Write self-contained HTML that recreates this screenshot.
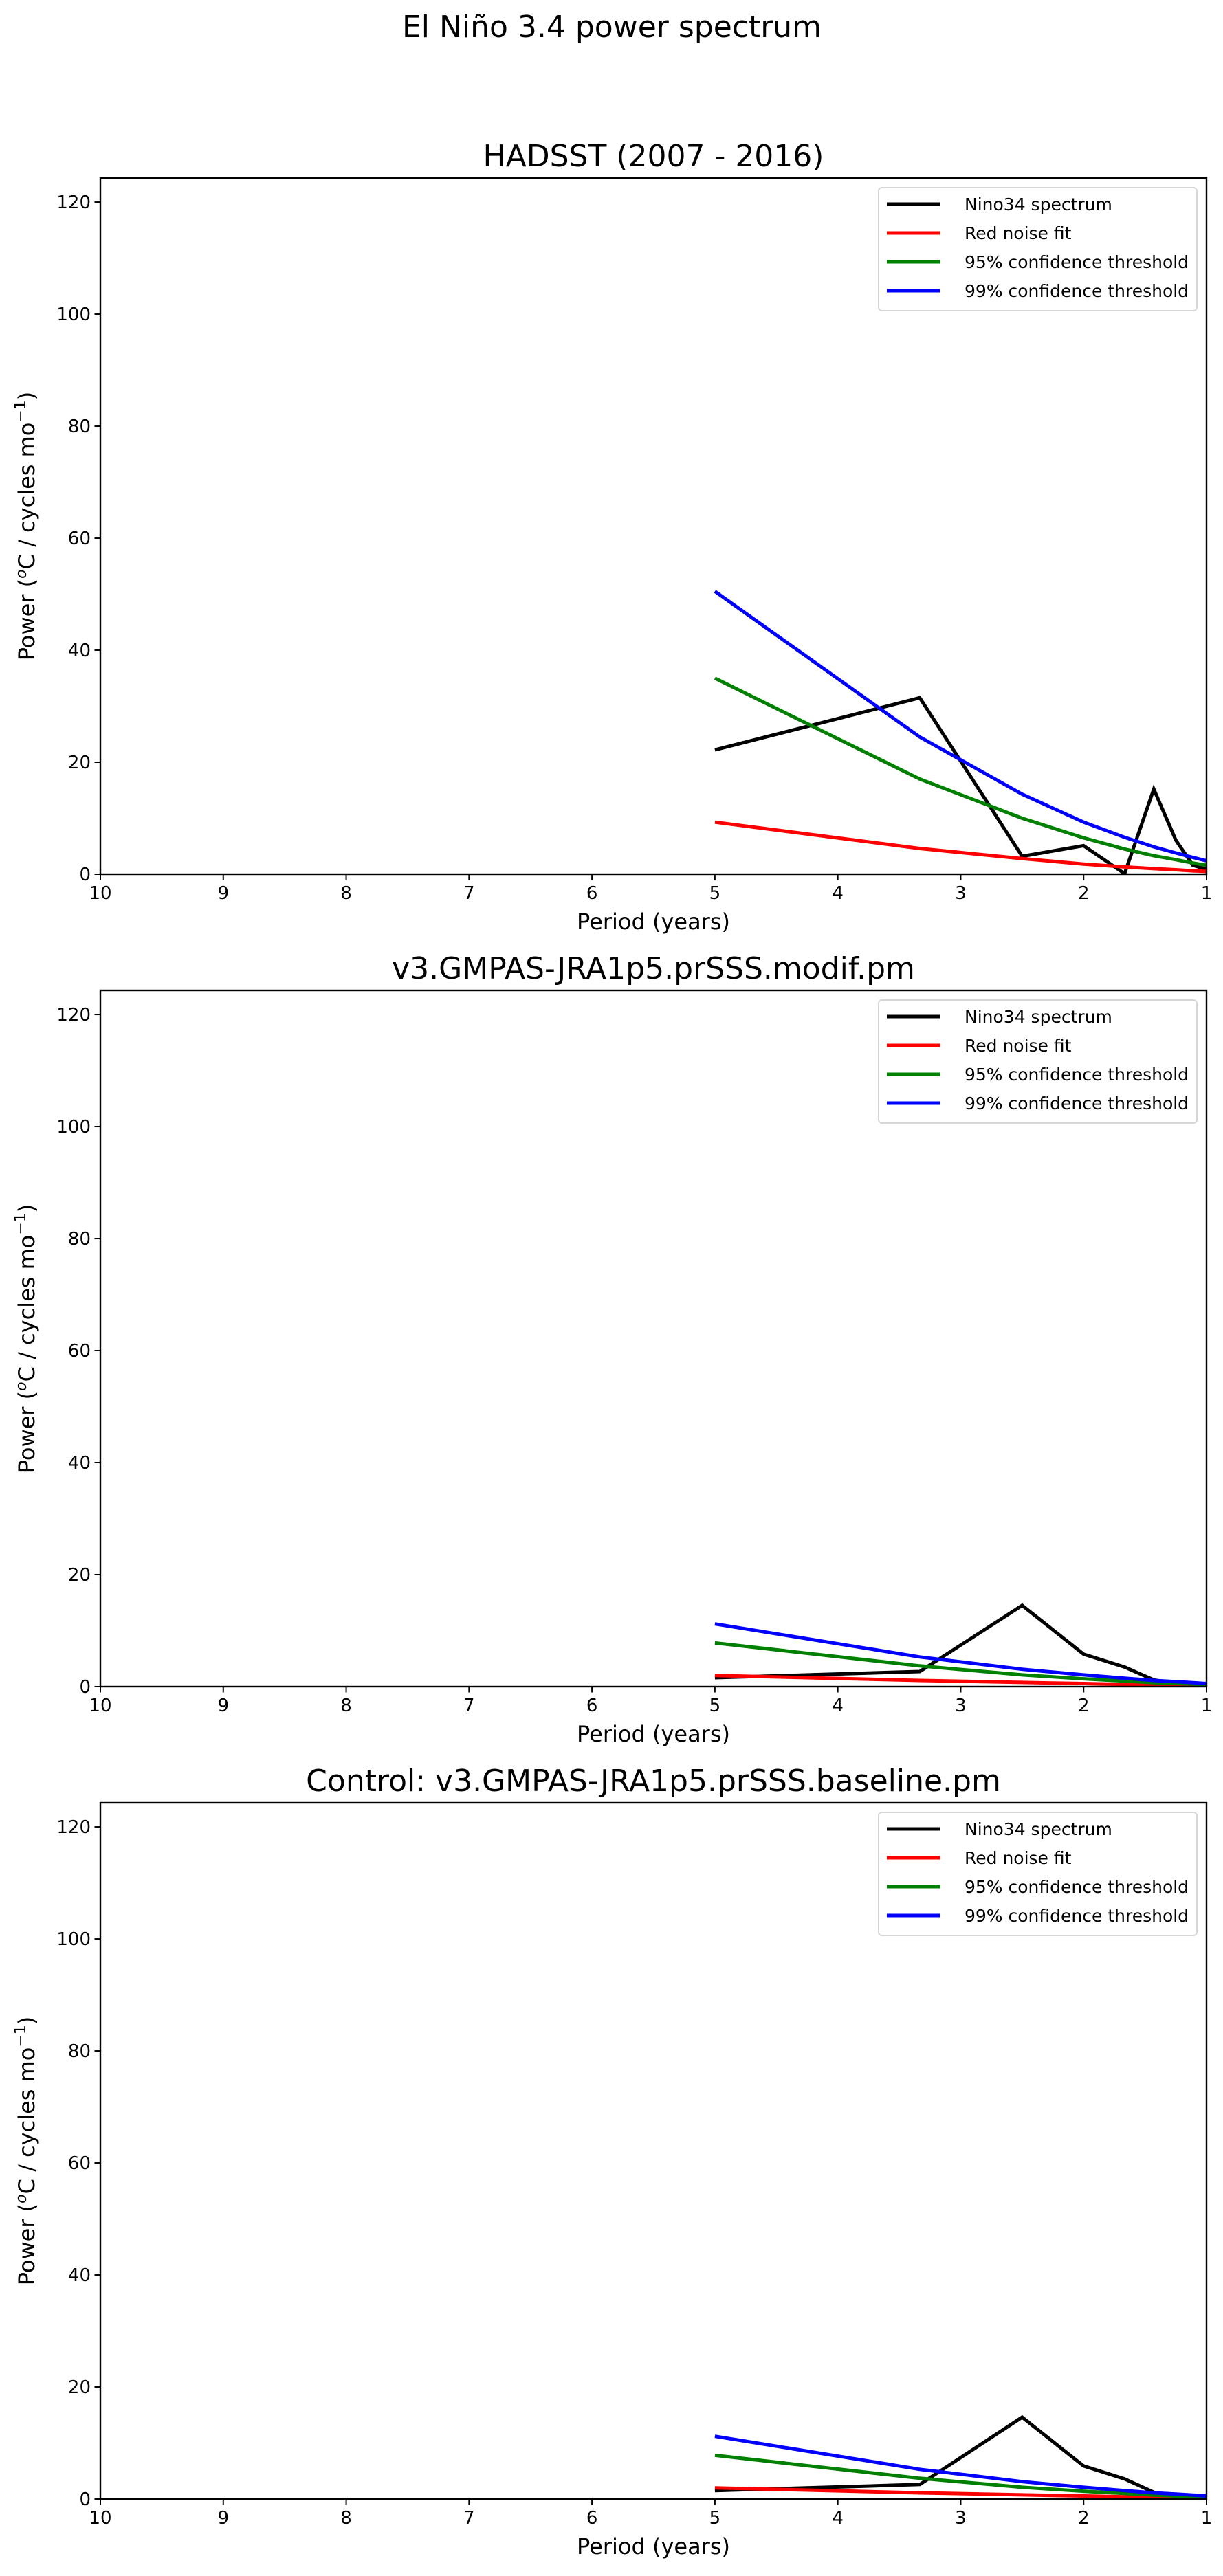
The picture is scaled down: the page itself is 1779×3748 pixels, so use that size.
<!DOCTYPE html>
<html><head><meta charset="utf-8"><style>
html,body{margin:0;padding:0;background:#fff}
svg{display:block}
text{font-family:"DejaVu Sans","Liberation Sans",sans-serif;fill:#000}
</style></head><body>
<svg id="fig" width="1779" height="3748" viewBox="0 0 1779 3748" xmlns="http://www.w3.org/2000/svg">
<rect width="1779" height="3748" fill="#fff"/>
<text x="890" y="54" font-size="44" text-anchor="middle">El Niño 3.4 power spectrum</text>
</svg>
<script>
const periods = [5, 3.333, 2.5, 2, 1.667, 1.429, 1.25, 1.111, 1.0];
const xTicks = [10, 9, 8, 7, 6, 5, 4, 3, 2, 1];
const yTicks = [0, 20, 40, 60, 80, 100, 120];
const panelTitles = ["HADSST (2007 - 2016)", "v3.GMPAS-JRA1p5.prSSS.modif.pm", "Control: v3.GMPAS-JRA1p5.prSSS.baseline.pm"];
const seriesNames = ["Nino34 spectrum", "Red noise fit", "95% confidence threshold", "99% confidence threshold"];
const seriesColors = ["#000000", "#ff0000", "#008000", "#0000ff"];
const hadNino = [22.2, 31.5, 3.2, 5.1, 0.1, 15.2, 6.1, 1.6, 0.9];
const hadRed = [9.3, 4.6, 2.8, 1.8, 1.3, 1.0, 0.8, 0.6, 0.5];
const had95 = [35, 17, 10, 6.5, 4.5, 3.3, 2.6, 2.0, 1.6];
const had99 = [50.5, 24.5, 14.3, 9.3, 6.6, 4.9, 3.8, 3.0, 2.4];
const modNino = [1.6, 2.7, 14.5, 5.8, 3.5, 1.2, 0.5, 0.3, 0.2];
const modRed = [2.0, 1.1, 0.75, 0.55, 0.4, 0.3, 0.25, 0.2, 0.15];
const mod95 = [7.8, 3.7, 2.1, 1.4, 1.0, 0.7, 0.55, 0.45, 0.35];
const mod99 = [11.2, 5.3, 3.1, 2.1, 1.5, 1.1, 0.9, 0.7, 0.55];
const ctlNino = [1.5, 2.6, 14.6, 5.9, 3.6, 1.2, 0.5, 0.3, 0.2];
const ctlRed = [2.0, 1.1, 0.75, 0.55, 0.4, 0.3, 0.25, 0.2, 0.15];
const ctl95 = [7.8, 3.7, 2.1, 1.4, 1.0, 0.7, 0.55, 0.45, 0.35];
const ctl99 = [11.2, 5.3, 3.1, 2.1, 1.5, 1.1, 0.9, 0.7, 0.55];
const yMax = 124.3;

const NS = "http://www.w3.org/2000/svg";
const svg = document.getElementById("fig");
function mk(tag, attrs, parent) {
  const e = document.createElementNS(NS, tag);
  for (const k in attrs) e.setAttribute(k, attrs[k]);
  (parent || svg).appendChild(e);
  return e;
}
const L = 146, R = 1755;
const panelData = [[hadNino, hadRed, had95, had99], [modNino, modRed, mod95, mod99], [ctlNino, ctlRed, ctl95, ctl99]];
const bottoms = [1272, 2454, 3636];
const axH = 1013;

panelData.forEach((series, pi) => {
  const B = bottoms[pi], T = B - axH;
  const sx = p => L + (10 - p) / 9 * (R - L);
  const sy = v => B - v / yMax * axH;
  const g = mk("g", {});
  
  
  const title = mk("text", {x: (L + R) / 2, y: T - 17, "font-size": 44, "text-anchor": "middle"}, g);
  title.textContent = panelTitles[pi];
  
  
  xTicks.forEach(t => {
    const x = sx(t);
    const tk = mk("line", {x1: x, x2: x, y1: B, y2: B + 8.5, stroke: "#000", "stroke-width": 2}, g);
    
    
    const lb = mk("text", {x: x, y: B + 36, "font-size": 26, "text-anchor": "middle"}, g);
    lb.textContent = t;
    
    
  });
  yTicks.forEach(t => {
    const y = sy(t);
    const tk = mk("line", {x1: L - 8.5, x2: L, y1: y, y2: y, stroke: "#000", "stroke-width": 2}, g);
    
    
    const lb = mk("text", {x: L - 14, y: y + 9, "font-size": 26, "text-anchor": "end"}, g);
    lb.textContent = t;
    
    
  });
  const xl = mk("text", {x: (L + R) / 2, y: B + 80, "font-size": 32, "text-anchor": "middle"}, g);
  xl.textContent = "Period (years)";
  
  
  const yl = mk("text", {x: 0, y: 0, "font-size": 32, "text-anchor": "middle", transform: `translate(50,${(T + B) / 2}) rotate(-90)`}, g);
  yl.innerHTML = 'Power (<tspan dy="-12" font-size="22" font-style="italic">o</tspan><tspan dy="12">C / cycles mo</tspan><tspan dy="-13" font-size="22">−1</tspan><tspan dy="13">)</tspan>';
  
  
  const cp = mk("clipPath", {id: "clip" + pi}, g);
  mk("rect", {x: L, y: T, width: R - L, height: axH}, cp);
  series.forEach((vals, si) => {
    const d = vals.map((v, i) => (i ? "L" : "M") + sx(periods[i]).toFixed(1) + "," + sy(v).toFixed(1)).join(" ");
    const p = mk("path", {d: d, fill: "none", stroke: seriesColors[si], "stroke-width": 5, "stroke-linejoin": "miter", "clip-path": `url(#clip${pi})`}, g);
    
    
  });
  const fr = mk("rect", {x: L, y: T, width: R - L, height: axH, fill: "none", stroke: "#000", "stroke-width": 2.4}, g);
  
  
  const lg = mk("g", {}, g);
  
  
  mk("rect", {x: 1278, y: T + 14, width: 463, height: 179, rx: 5, fill: "#fff", "fill-opacity": 0.8, stroke: "#d6d6d6", "stroke-width": 2}, lg);
  seriesNames.forEach((n, si) => {
    const y = T + 38 + si * 42;
    const hl = mk("line", {x1: 1290, x2: 1367, y1: y, y2: y, stroke: seriesColors[si], "stroke-width": 5}, lg);
    
    
    const tx = mk("text", {x: 1403, y: y + 9, "font-size": 25}, lg);
    tx.textContent = n;
    
    
  });
});
</script>
</body></html>
